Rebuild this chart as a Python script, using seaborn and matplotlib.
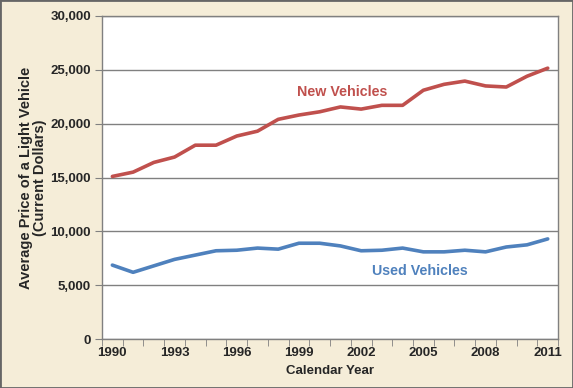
import numpy as np
import pandas as pd
import matplotlib.pyplot as plt
import seaborn as sns
from matplotlib.patches import Rectangle

# Data
years = list(range(1990, 2012))
new_vehicles = [15100, 15500, 16400, 16900, 18000, 18000, 18850, 19300, 20400, 20800, 21100,
                21550, 21350, 21700, 21700, 23100, 23650, 23950, 23500, 23400, 24400, 25150]
used_vehicles = [6870, 6200, 6800, 7400, 7800, 8200, 8250, 8450, 8350, 8900, 8900,
                 8650, 8200, 8250, 8450, 8100, 8100, 8250, 8100, 8550, 8750, 9300]
year_labels = [1990, 1993, 1996, 1999, 2002, 2005, 2008, 2011]

df = pd.DataFrame({'Year': years, 'New': new_vehicles, 'Used': used_vehicles})

sns.set_style('white')
plt.rcParams['font.family'] = ['Liberation Sans', 'DejaVu Sans']

bg = '#F5EDD8'
fig = plt.figure(figsize=(5.73, 3.88), dpi=100, facecolor=bg)
ax = fig.add_axes([0.178, 0.126, 0.796, 0.833])
ax.set_facecolor('white')

sns.lineplot(data=df, x='Year', y='New', ax=ax, color='#C0504D', lw=2.6)
sns.lineplot(data=df, x='Year', y='Used', ax=ax, color='#4F81BD', lw=2.6)

ax.set_xlim(1989.5, 2011.5)
ax.set_ylim(0, 30000)
ax.set_yticks(range(0, 30001, 5000))
ax.set_yticklabels([f'{v:,}' for v in range(0, 30001, 5000)])
ax.yaxis.grid(True, color='#808080', lw=1)
ax.set_axisbelow(True)

ax.set_xticks(year_labels)
ax.set_xticklabels([str(y) for y in year_labels])
ax.set_xticks(np.arange(1989.5, 2012, 1), minor=True)
ax.tick_params(axis='x', which='major', length=0, pad=6, labelsize=9.5)
ax.tick_params(axis='x', which='minor', length=5, color='#808080', direction='out', bottom=True)
ax.tick_params(axis='y', length=5, color='#808080', direction='out', left=True, labelsize=9.5, pad=3)
for lbl in ax.get_xticklabels() + ax.get_yticklabels():
    lbl.set_fontweight('bold')

for s in ax.spines.values():
    s.set_color('#808080')
    s.set_linewidth(1)

ax.set_xlabel('Calendar Year', fontsize=9.5, fontweight='bold', labelpad=4)
ax.set_ylabel('Average Price of a Light Vehicle\n(Current Dollars)', fontsize=10.5,
              fontweight='bold', labelpad=2, linespacing=1.0)

ax.text(2001.1, 22900, 'New Vehicles', color='#C0504D', fontsize=10.3, fontweight='bold',
        ha='center', va='center')
ax.text(2004.85, 6350, 'Used Vehicles', color='#4F81BD', fontsize=10.3, fontweight='bold',
        ha='center', va='center')

fig.patches.append(Rectangle((0, 0), 1, 1, transform=fig.transFigure, fill=False,
                             edgecolor='#666666', lw=2, zorder=10))

fig.savefig('out.png', dpi=100, facecolor=bg)
